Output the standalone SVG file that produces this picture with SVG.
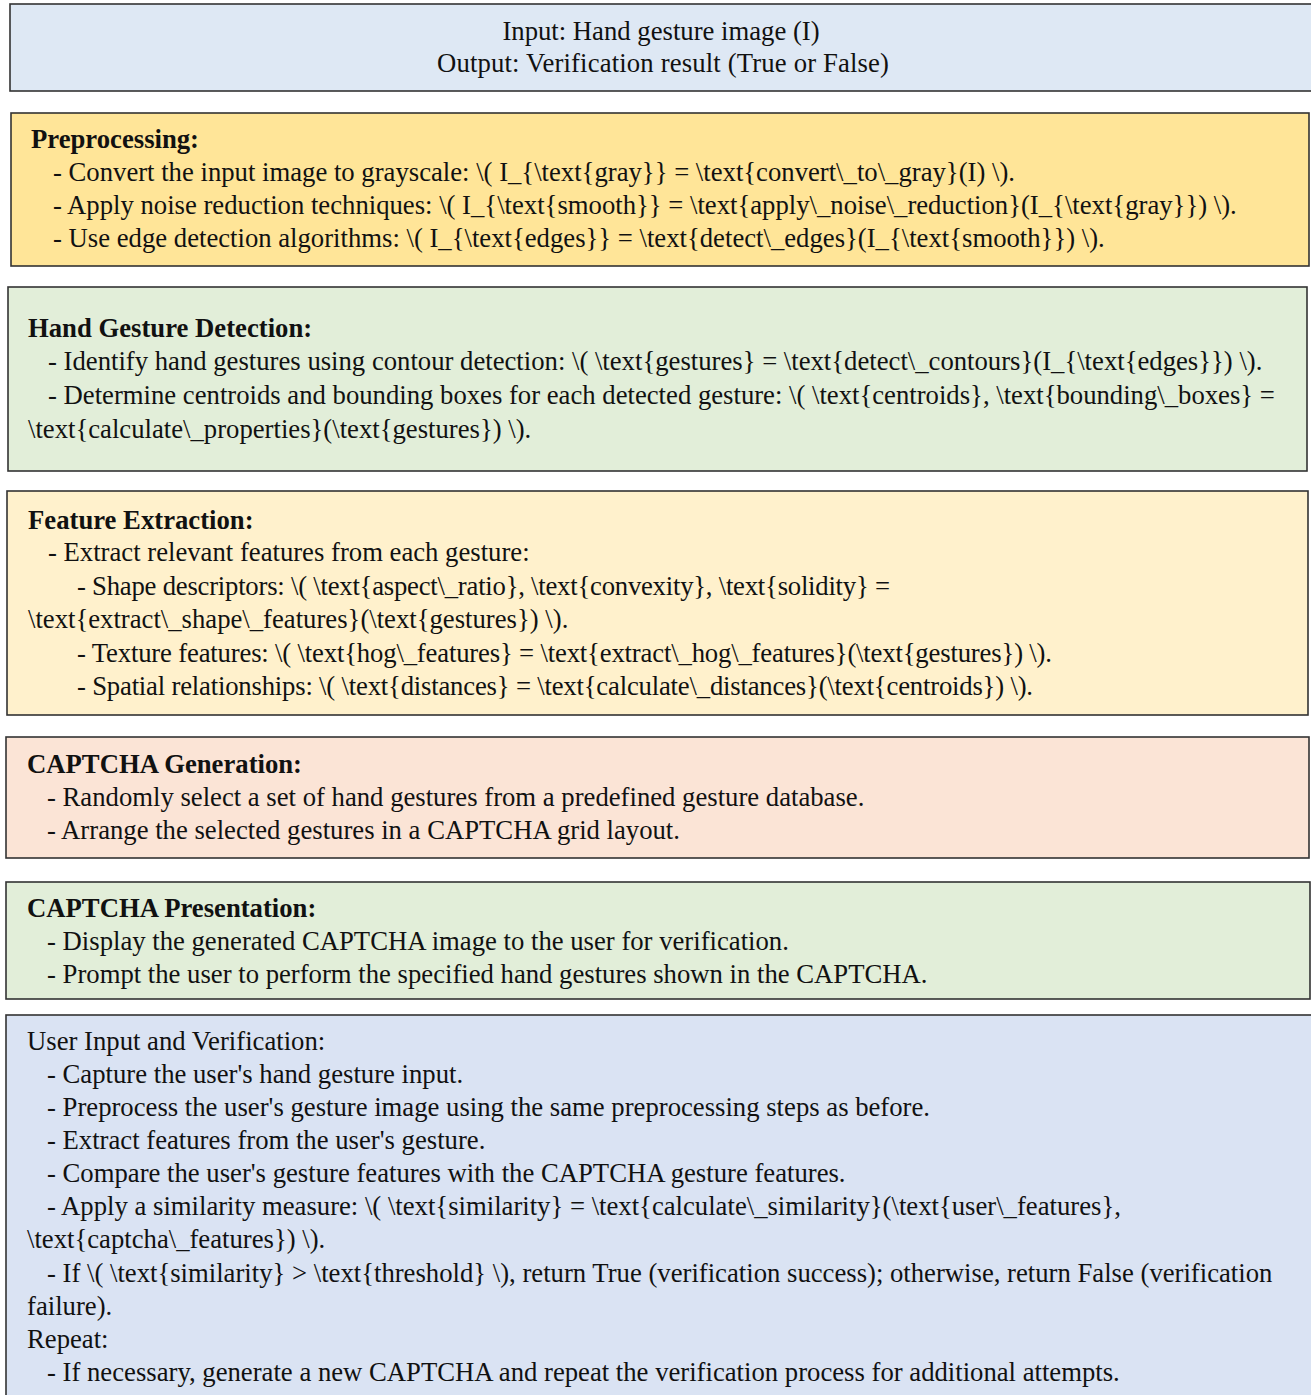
<svg xmlns="http://www.w3.org/2000/svg" width="1311" height="1395" viewBox="0 0 1311 1395">
  <style>
    .box { stroke: #333333; stroke-width: 1.6; }
    text { font-family: "Liberation Serif", "Times New Roman", serif; font-size: 26.7px; fill: #111111; }
    .title { font-weight: bold; }
    .mid { text-anchor: middle; }
  </style>
  <rect width="1311" height="1395" fill="#ffffff"/>

  <g id="io-spec">
    <rect class="box" x="10" y="4" width="1310" height="87" fill="#dee8f4"/>
    <text class="mid" x="661" y="40">Input: Hand gesture image (I)</text>
    <text class="mid" x="663" y="72" textLength="452" lengthAdjust="spacing">Output: Verification result (True or False)</text>
  </g>

  <g id="preprocessing">
    <rect class="box" x="11" y="113" width="1298" height="153" fill="#ffe598"/>
    <text class="title" x="31" y="148">Preprocessing:</text>
    <text x="53" y="181">- Convert the input image to grayscale: \( I_{\text{gray}} = \text{convert\_to\_gray}(I) \).</text>
    <text x="53" y="214">- Apply noise reduction techniques: \( I_{\text{smooth}} = \text{apply\_noise\_reduction}(I_{\text{gray}}) \).</text>
    <text x="53" y="247">- Use edge detection algorithms: \( I_{\text{edges}} = \text{detect\_edges}(I_{\text{smooth}}) \).</text>
  </g>

  <g id="gesture-detection">
    <rect class="box" x="8" y="287" width="1299" height="184" fill="#e2eed9"/>
    <text class="title" x="28" y="337">Hand Gesture Detection:</text>
    <text x="48" y="370">- Identify hand gestures using contour detection: \( \text{gestures} = \text{detect\_contours}(I_{\text{edges}}) \).</text>
    <text x="48" y="404">- Determine centroids and bounding boxes for each detected gesture: \( \text{centroids}, \text{bounding\_boxes} =</text>
    <text x="28" y="438">\text{calculate\_properties}(\text{gestures}) \).</text>
  </g>

  <g id="feature-extraction">
    <rect class="box" x="7" y="491" width="1301" height="224" fill="#fff1cc"/>
    <text class="title" x="28" y="529">Feature Extraction:</text>
    <text x="48" y="561">- Extract relevant features from each gesture:</text>
    <text x="77" y="595" textLength="813" lengthAdjust="spacing">- Shape descriptors: \( \text{aspect\_ratio}, \text{convexity}, \text{solidity} =</text>
    <text x="28" y="628">\text{extract\_shape\_features}(\text{gestures}) \).</text>
    <text x="77" y="662" textLength="975" lengthAdjust="spacing">- Texture features: \( \text{hog\_features} = \text{extract\_hog\_features}(\text{gestures}) \).</text>
    <text x="77" y="695" textLength="956" lengthAdjust="spacing">- Spatial relationships: \( \text{distances} = \text{calculate\_distances}(\text{centroids}) \).</text>
  </g>

  <g id="captcha-generation">
    <rect class="box" x="6" y="737" width="1303" height="121" fill="#fbe4d6"/>
    <text class="title" x="27" y="773">CAPTCHA Generation:</text>
    <text x="47" y="806">- Randomly select a set of hand gestures from a predefined gesture database.</text>
    <text x="47" y="839">- Arrange the selected gestures in a CAPTCHA grid layout.</text>
  </g>

  <g id="captcha-presentation">
    <rect class="box" x="6" y="882" width="1304" height="117" fill="#e2eed9"/>
    <text class="title" x="27" y="917">CAPTCHA Presentation:</text>
    <text x="47" y="950">- Display the generated CAPTCHA image to the user for verification.</text>
    <text x="47" y="983">- Prompt the user to perform the specified hand gestures shown in the CAPTCHA.</text>
  </g>

  <g id="user-verification">
    <rect class="box" x="6" y="1015" width="1320" height="400" fill="#dae3f3"/>
    <text x="27" y="1050">User Input and Verification:</text>
    <text x="47" y="1083">- Capture the user's hand gesture input.</text>
    <text x="47" y="1116">- Preprocess the user's gesture image using the same preprocessing steps as before.</text>
    <text x="47" y="1149">- Extract features from the user's gesture.</text>
    <text x="47" y="1182">- Compare the user's gesture features with the CAPTCHA gesture features.</text>
    <text x="47" y="1215">- Apply a similarity measure: \( \text{similarity} = \text{calculate\_similarity}(\text{user\_features},</text>
    <text x="27" y="1248">\text{captcha\_features}) \).</text>
    <text x="47" y="1282">- If \( \text{similarity} &gt; \text{threshold} \), return True (verification success); otherwise, return False (verification</text>
    <text x="27" y="1315">failure).</text>
    <text x="27" y="1348">Repeat:</text>
    <text x="47" y="1381">- If necessary, generate a new CAPTCHA and repeat the verification process for additional attempts.</text>
  </g>

  <g id="connectors"/>
</svg>
